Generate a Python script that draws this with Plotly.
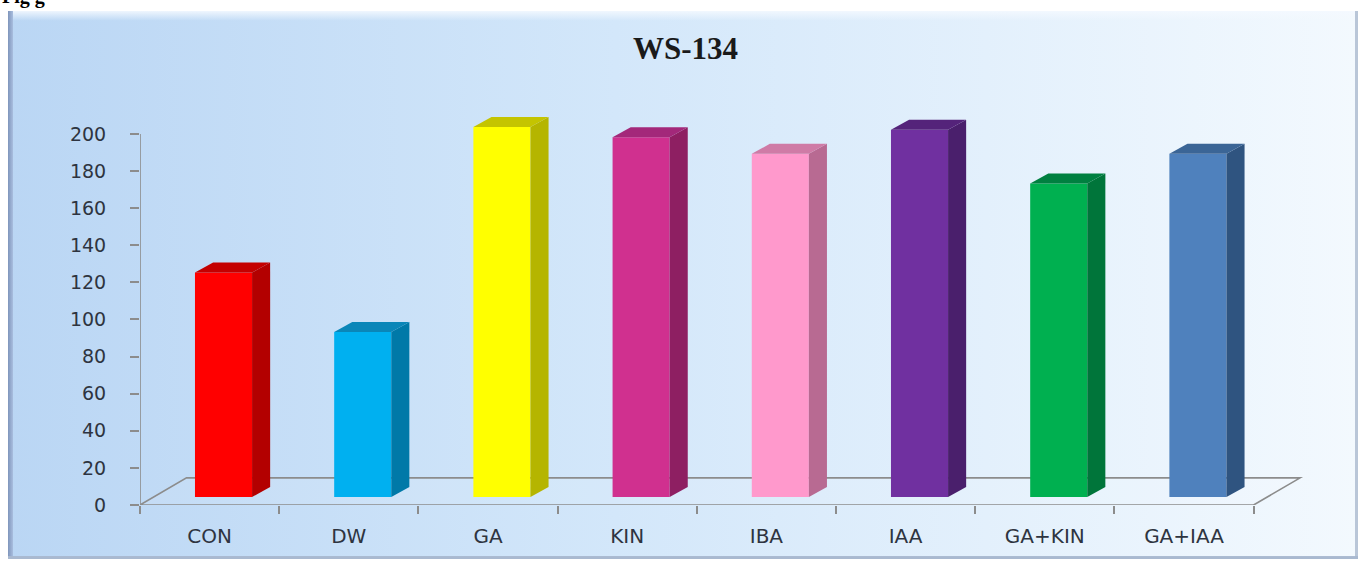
import base64
import plotly.graph_objects as go

# ---------------- data ----------------
categories = ["CON", "DW", "GA", "KIN", "IBA", "IAA", "GA+KIN", "GA+IAA"]
values = [121, 89, 199.5, 194, 185, 198, 169, 185]
y_ticks = [0, 20, 40, 60, 80, 100, 120, 140, 160, 180, 200]
title_text = "WS-134"

# ---------------- style / layout ----------------
front_colors = ["#ff0000", "#00b0f0", "#ffff00", "#d0308f", "#ff99cc", "#7030a0", "#00b050", "#4f81bd"]
side_colors = ["#b30000", "#0079a8", "#b5b500", "#8e1f62", "#b86a92", "#4a1f6c", "#00753a", "#2f5480"]
top_colors = ["#c40000", "#0a86b8", "#c4c400", "#a3287a", "#cf7ba6", "#54237a", "#008040", "#3b6596"]

W, H = 1365, 575
SY = H / 564.0          # vertical design factor (reference pixels -> figure pixels)
PX_PER_X = 139.2        # pixels per category
PX_PER_Y = 1.855 * SY   # pixels per value unit
X0_PX, Y0_PX = 140, 505 * SY  # pixel position of the axis origin
X_RANGE = [-0.5, 7.9]
Y_RANGE = [0, 215]

FRONT_OFF = 0.10   # front face centre offset from category centre
BAR_W = 0.41
BASE = 4.3         # bar sits a bit back on the floor
DX, DY = 0.13, 5.4  # bar depth projection
FLOOR_DX, FLOOR_DY = 0.334, 14.6
AXIS_GRAY = "#8c8c8c"
TEXT_COLOR = "#2e3440"

x_dom = [X0_PX / W, (X0_PX + (X_RANGE[1] - X_RANGE[0]) * PX_PER_X) / W]
y_dom = [(H - Y0_PX) / H, (H - (Y0_PX - (Y_RANGE[1] - Y_RANGE[0]) * PX_PER_Y)) / H]

fig = go.Figure()

# side and top faces of the 3D columns
for i, v in enumerate(values):
    xr = i + FRONT_OFF + BAR_W / 2
    xl = i + FRONT_OFF - BAR_W / 2
    top = BASE + v
    fig.add_trace(go.Scatter(
        x=[xr, xr + DX, xr + DX, xr, xr],
        y=[BASE, BASE + DY, top + DY, top, BASE],
        mode="lines", fill="toself", fillcolor=side_colors[i],
        line=dict(width=0, color=side_colors[i]), hoverinfo="skip"))
    fig.add_trace(go.Scatter(
        x=[xl, xl + DX, xr + DX, xr, xl],
        y=[top, top + DY, top + DY, top, top],
        mode="lines", fill="toself", fillcolor=top_colors[i],
        line=dict(width=0, color=top_colors[i]), hoverinfo="skip"))

# front faces
fig.add_trace(go.Bar(
    x=[i + FRONT_OFF for i in range(len(categories))],
    y=values, base=BASE, width=BAR_W,
    marker=dict(color=front_colors, line=dict(width=0)),
    hovertext=categories, hoverinfo="text+y"))

n = len(categories)
floor_path = (f"M {-0.5},0 L {n - 0.5},0 L {n - 0.5 + FLOOR_DX},{FLOOR_DY} "
              f"L {-0.5 + FLOOR_DX},{FLOOR_DY} Z")
shapes = [
    dict(type="path", xref="x", yref="y", path=floor_path, layer="below",
         line=dict(color=AXIS_GRAY, width=1.6), fillcolor="rgba(255,255,255,0.08)"),
    dict(type="line", xref="x", yref="y", x0=-0.5, x1=-0.5, y0=0, y1=y_ticks[-1],
         layer="below", line=dict(color=AXIS_GRAY, width=1.6)),
]

# background gradient (chart area) as an svg image
fy0, fy1 = 11 * SY, 559 * SY
svg = f'''<svg xmlns="http://www.w3.org/2000/svg" width="{W}" height="{H}" viewBox="0 0 {W} {H}" preserveAspectRatio="none">
<defs>
<linearGradient id="g" x1="0" y1="0" x2="1" y2="0">
<stop offset="0" stop-color="#bad6f4"/>
<stop offset="0.45" stop-color="#d3e7fa"/>
<stop offset="1" stop-color="#f3f9fe"/>
</linearGradient>
<linearGradient id="t" x1="0" y1="0" x2="0" y2="1">
<stop offset="0" stop-color="#f4f9ff" stop-opacity="0.9"/>
<stop offset="1" stop-color="#f4f9ff" stop-opacity="0"/>
</linearGradient>
<linearGradient id="l" x1="0" y1="0" x2="1" y2="0">
<stop offset="0" stop-color="#7f95bb"/>
<stop offset="1" stop-color="#a9bedf"/>
</linearGradient>
</defs>
<rect x="0" y="0" width="{W}" height="{H}" fill="#ffffff"/>
<rect x="8" y="{fy0}" width="1350" height="{fy1 - fy0}" fill="url(#g)"/>
<rect x="8" y="{fy0}" width="1350" height="10" fill="url(#t)"/>
<rect x="8" y="{fy0}" width="5" height="{fy1 - fy0}" fill="url(#l)"/>
<rect x="1355" y="{fy0}" width="3" height="{fy1 - fy0}" fill="#b9c6d8"/>
<rect x="8" y="{fy1 - 3}" width="1350" height="3" fill="#a9b9d0"/>
</svg>'''
src = "data:image/svg+xml;base64," + base64.b64encode(svg.encode()).decode()

fig.update_layout(
    width=W, height=H,
    margin=dict(l=0, r=0, t=0, b=0),
    paper_bgcolor="#ffffff",
    plot_bgcolor="rgba(0,0,0,0)",
    showlegend=False,
    barmode="overlay",
    shapes=shapes,
    images=[dict(source=src, xref="paper", yref="paper", x=0, y=1, sizex=1, sizey=1,
                 xanchor="left", yanchor="top", sizing="stretch", layer="below")],
    xaxis=dict(domain=x_dom, range=X_RANGE, tickmode="array",
               tickvals=list(range(n)), ticktext=categories, ticks="",
               showgrid=False, zeroline=False, showline=False,
               ticklabelstandoff=17,
               tickfont=dict(family="DejaVu Sans", size=20, color=TEXT_COLOR),
               minor=dict(tickmode="array", tickvals=[k - 0.5 for k in range(n + 1)],
                          ticks="outside", ticklen=8, tickwidth=1.5, tickcolor=AXIS_GRAY,
                          showgrid=False)),
    yaxis=dict(domain=y_dom, range=Y_RANGE, tickmode="array", tickvals=y_ticks,
               ticks="outside", ticklen=9, tickwidth=1.5, tickcolor=AXIS_GRAY,
               showgrid=False, zeroline=False, showline=False,
               ticklabelstandoff=20,
               tickfont=dict(family="DejaVu Sans", size=19, color=TEXT_COLOR)),
    annotations=[
        dict(text=f"<b>{title_text}</b>", xref="paper", yref="paper", x=0.502,
             y=(H - 48 * SY) / H,
             xanchor="center", yanchor="middle", showarrow=False,
             font=dict(family="Liberation Serif", size=31, color="#1a1a1a")),
        dict(text="<b>Fig g</b>", xref="paper", yref="paper", x=0, y=1,
             xanchor="left", yanchor="bottom", yshift=-10, showarrow=False,
             font=dict(family="Liberation Serif", size=20, color="#000000")),
    ],
)

fig.write_html("out.html")
